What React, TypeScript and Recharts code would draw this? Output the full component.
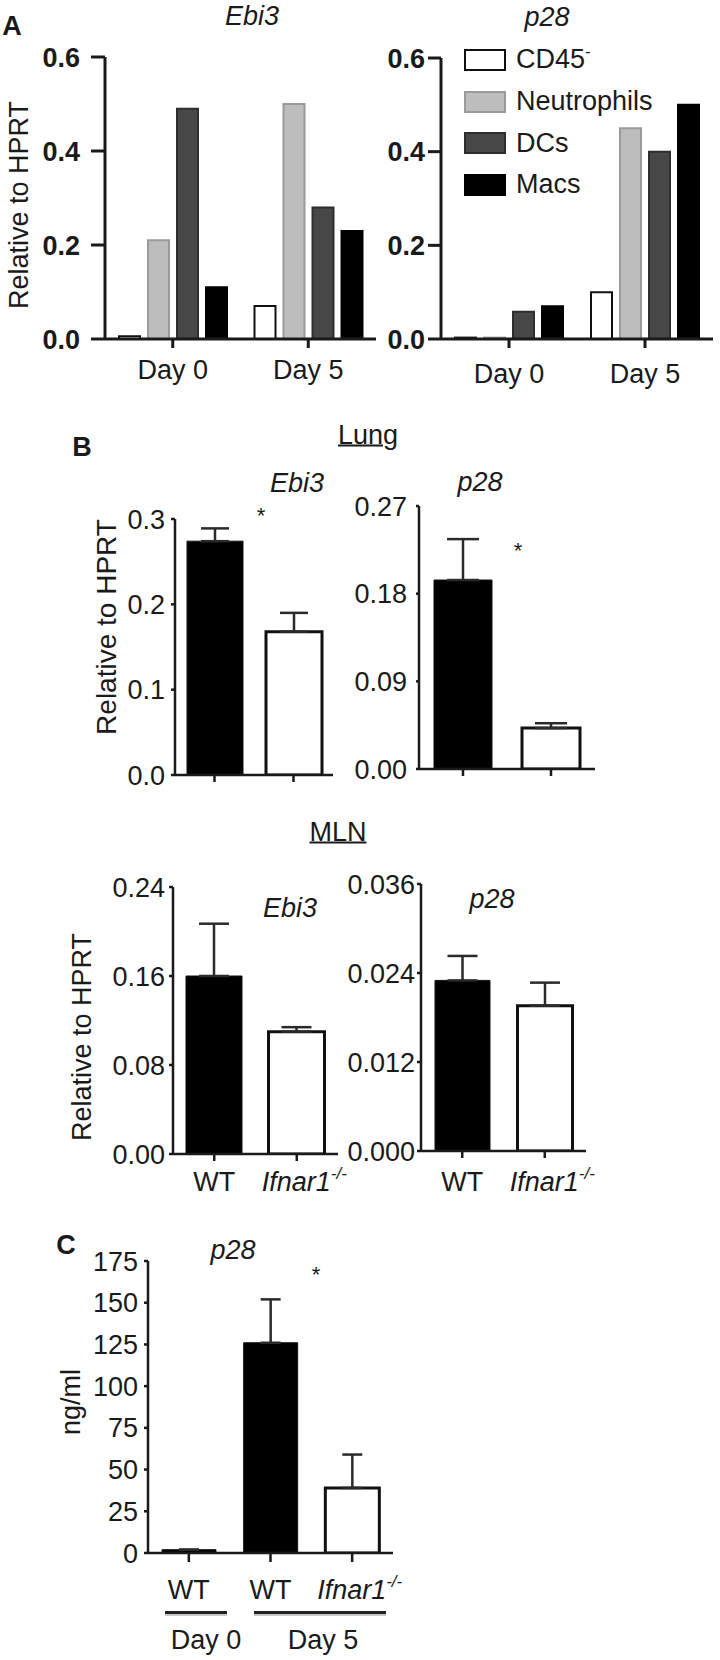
import React from 'react';
import { BarChart, Bar, XAxis, YAxis, ErrorBar, Cell, Legend } from 'recharts';

const FONT = '"Liberation Sans", Arial, Helvetica, sans-serif';
const INK = '#1a1a1a';

// Panel A: cell types, day 0 vs day 5
const aDays = ['Day 0', 'Day 5'];
const aEbi3Cd45 = [0.006, 0.07];
const aEbi3Neut = [0.21, 0.5];
const aEbi3Dcs = [0.49, 0.28];
const aEbi3Macs = [0.11, 0.23];
const aP28Cd45 = [0.003, 0.1];
const aP28Neut = [0.003, 0.45];
const aP28Dcs = [0.058, 0.4];
const aP28Macs = [0.07, 0.5];
const aTicks = [0, 0.2, 0.4, 0.6];

const legendNames = ['CD45', 'Neutrophils', 'DCs', 'Macs'];
const legendFills = ['#ffffff', '#bdbdbd', '#474747', '#000000'];
const legendStrokes = ['#111111', '#9a9a9a', '#2e2e2e', '#000000'];

// Panel B: WT vs Ifnar1-/-
const bGroups = ['WT', 'Ifnar1-/-'];
const groupFills = ['#000000', '#ffffff'];
const lungEbi3 = [0.274, 0.168];
const lungEbi3Err = [0.015, 0.022];
const lungP28 = [0.194, 0.042];
const lungP28Err = [0.042, 0.005];
const mlnEbi3 = [0.16, 0.11];
const mlnEbi3Err = [0.047, 0.004];
const mlnP28 = [0.023, 0.0196];
const mlnP28Err = [0.0033, 0.0031];
const lungEbi3Ticks = [0, 0.1, 0.2, 0.3];
const lungP28Ticks = [0, 0.09, 0.18, 0.27];
const mlnEbi3Ticks = [0, 0.08, 0.16, 0.24];
const mlnP28Ticks = [0, 0.012, 0.024, 0.036];

// Panel C: p28 protein
const cGroups = ['WT', 'WT', 'Ifnar1-/-'];
const cFills = ['#000000', '#000000', '#ffffff'];
const cValues = [2, 126, 39];
const cErr = [0, 26, 20];
const cTicks = [0, 25, 50, 75, 100, 125, 150, 175];

const aEbi3Rows = aDays.map((name, i) => ({ name, cd45: aEbi3Cd45[i], neut: aEbi3Neut[i], dcs: aEbi3Dcs[i], macs: aEbi3Macs[i] }));
const aP28Rows = aDays.map((name, i) => ({ name, cd45: aP28Cd45[i], neut: aP28Neut[i], dcs: aP28Dcs[i], macs: aP28Macs[i] }));
const rows = (vals: number[], errs: number[], names: string[]) =>
  names.map((name, i) => ({ name, v: vals[i], err: [0, errs[i]] }));

const axisA = { stroke: INK, strokeWidth: 3 };
const axisB = { stroke: INK, strokeWidth: 2.5 };
const tickA = { fill: INK, fontSize: 27, fontWeight: 'bold', fontFamily: FONT };
const tickB = { fill: INK, fontSize: 27, fontFamily: FONT };

function XLabel(props: any) {
  const { x, y, payload } = props;
  const v = String(payload.value);
  if (v.startsWith('Ifnar1')) {
    return (
      <text x={x - 35} y={y} dy="0.71em" fontSize={27} fontFamily={FONT} fill={INK} fontStyle="italic">
        <tspan>Ifnar1</tspan>
        <tspan fontSize={17} dy={-12}>-/-</tspan>
      </text>
    );
  }
  return (
    <text x={x} y={y} dy="0.71em" textAnchor="middle" fontSize={27} fontFamily={FONT} fill={INK}>
      {v}
    </text>
  );
}

const NoLabel = () => <g />;

function Plot({ ax, ty, by, rx, yw, xh, mr = 6, data, barGap, children }: any) {
  const mt = 15;
  const width = rx - ax + yw + mr;
  const height = by - ty + mt + xh;
  return (
    <div style={{ position: 'absolute', left: ax - yw, top: ty - mt, width, height }}>
      <BarChart width={width} height={height} data={data} margin={{ top: mt, right: mr, bottom: 0, left: 0 }} barGap={barGap}>
        {children}
      </BarChart>
    </div>
  );
}

function Note({ x, y, size = 27, italic, bold, rotate, underline, children }: any) {
  return (
    <div
      style={{
        position: 'absolute', left: x, top: y, fontSize: size, lineHeight: 1, whiteSpace: 'nowrap',
        transform: `translate(-50%, -50%)${rotate ? ' rotate(-90deg)' : ''}`,
        fontStyle: italic ? 'italic' : 'normal', fontWeight: bold ? 'bold' : 'normal',
        textDecoration: underline ? 'underline' : 'none', textDecorationThickness: 2,
      }}
    >
      {children}
    </div>
  );
}

function CellLegend() {
  return (
    <div style={{ fontFamily: FONT, fontSize: 27, color: INK }}>
      {legendNames.map((n, i) => (
        <div key={n} style={{ display: 'flex', alignItems: 'center', height: 41.7 }}>
          <div style={{ width: 38, height: 18, background: legendFills[i], border: `2px solid ${legendStrokes[i]}` }} />
          <span style={{ marginLeft: 10, lineHeight: 1 }}>
            {n}
            {i === 0 && <span style={{ fontSize: 17, position: 'relative', top: -11 }}>-</span>}
          </span>
        </div>
      ))}
    </div>
  );
}

function cellBars(key: string, i: number) {
  return (
    <Bar key={key} dataKey={key} barSize={21} fill={legendFills[i]} stroke={legendStrokes[i]} strokeWidth={2} isAnimationActive={false} />
  );
}

function GroupBars({ fills, size, cap }: any) {
  return (
    <Bar dataKey="v" barSize={size} isAnimationActive={false}>
      {fills.map((f: string, i: number) => (
        <Cell key={i} fill={f} stroke="#111" strokeWidth={f === '#ffffff' ? 3 : 1} />
      ))}
      <ErrorBar dataKey="err" direction="y" width={cap} stroke="#2a2a2a" strokeWidth={2.5} isAnimationActive={false} />
    </Bar>
  );
}

export default function App() {
  const keys = ['cd45', 'neut', 'dcs', 'macs'];
  return (
    <div style={{ position: 'absolute', left: 0, top: 0, width: 720, height: 1660, background: '#fff', fontFamily: FONT, color: INK, overflow: 'hidden' }}>
      {/* Panel A */}
      <Note x={12} y={26} bold>A</Note>
      <Note x={252} y={16} italic>Ebi3</Note>
      <Note x={547} y={17} italic>p28</Note>
      <Note x={19} y={205} rotate>Relative to HPRT</Note>
      <Plot ax={105} ty={57} by={339} rx={376} yw={70} xh={60} data={aEbi3Rows} barGap={8}>
        <XAxis dataKey="name" height={60} tickSize={9} tickMargin={12} interval={0} axisLine={axisA} tickLine={axisA} tick={<XLabel />} />
        <YAxis width={70} domain={[0, 0.6]} ticks={aTicks} tickFormatter={(v: number) => v.toFixed(1)} tickSize={14} tickMargin={11} interval={0} axisLine={axisA} tickLine={axisA} tick={tickA} allowDataOverflow />
        {keys.map((k, i) => cellBars(k, i))}
      </Plot>
      <Plot ax={441} ty={58} by={339} rx={713} yw={70} xh={60} data={aP28Rows} barGap={8}>
        <XAxis dataKey="name" height={60} tickSize={9} tickMargin={16} interval={0} axisLine={axisA} tickLine={axisA} tick={<XLabel />} />
        <YAxis width={70} domain={[0, 0.6]} ticks={aTicks} tickFormatter={(v: number) => v.toFixed(1)} tickSize={13} tickMargin={3} interval={0} axisLine={axisA} tickLine={axisA} tick={tickA} allowDataOverflow />
        {keys.map((k, i) => cellBars(k, i))}
        <Legend layout="vertical" align="center" verticalAlign="middle" content={<CellLegend />} wrapperStyle={{ left: 93, top: -4, width: 'auto', height: 'auto' }} />
      </Plot>

      {/* Panel B */}
      <Note x={82} y={447} bold>B</Note>
      <Note x={368} y={435} underline>Lung</Note>
      <Note x={297} y={483} italic>Ebi3</Note>
      <Note x={480} y={482} italic>p28</Note>
      <Note x={261} y={516} size={22}>*</Note>
      <Note x={518} y={551} size={22}>*</Note>
      <Note x={107} y={627} rotate size={28}>Relative to HPRT</Note>
      <Plot ax={175} ty={519} by={775} rx={333} yw={70} xh={30} data={rows(lungEbi3, lungEbi3Err, bGroups)}>
        <XAxis dataKey="name" height={30} tickSize={7} interval={0} axisLine={axisB} tickLine={axisB} tick={NoLabel} />
        <YAxis width={70} domain={[0, 0.3]} ticks={lungEbi3Ticks} tickFormatter={(v: number) => v.toFixed(1)} tickSize={4} tickMargin={6} interval={0} axisLine={axisB} tickLine={axisB} tick={tickB} allowDataOverflow />
        {GroupBars({ fills: groupFills, size: 56, cap: 14 })}
      </Plot>
      <Plot ax={419} ty={506} by={769} rx={595} yw={80} xh={30} data={rows(lungP28, lungP28Err, bGroups)}>
        <XAxis dataKey="name" height={30} tickSize={7} interval={0} axisLine={axisB} tickLine={axisB} tick={NoLabel} />
        <YAxis width={80} domain={[0, 0.27]} ticks={lungP28Ticks} tickFormatter={(v: number) => v.toFixed(2)} tickSize={3} tickMargin={9} interval={0} axisLine={axisB} tickLine={axisB} tick={tickB} allowDataOverflow />
        {GroupBars({ fills: groupFills, size: 58, cap: 16 })}
      </Plot>

      <Note x={338} y={832} underline>MLN</Note>
      <Note x={290} y={908} italic>Ebi3</Note>
      <Note x={492} y={899} italic>p28</Note>
      <Note x={82} y={1037} rotate>Relative to HPRT</Note>
      <Plot ax={173} ty={887} by={1154} rx={338} yw={80} xh={70} mr={30} data={rows(mlnEbi3, mlnEbi3Err, bGroups)}>
        <XAxis dataKey="name" height={70} tickSize={7} tickMargin={11} interval={0} axisLine={axisB} tickLine={axisB} tick={<XLabel />} />
        <YAxis width={80} domain={[0, 0.24]} ticks={mlnEbi3Ticks} tickFormatter={(v: number) => v.toFixed(2)} tickSize={4} tickMargin={4} interval={0} axisLine={axisB} tickLine={axisB} tick={tickB} allowDataOverflow />
        {GroupBars({ fills: groupFills, size: 56, cap: 15 })}
      </Plot>
      <Plot ax={421} ty={884} by={1151} rx={586} yw={80} xh={70} mr={30} data={rows(mlnP28, mlnP28Err, bGroups)}>
        <XAxis dataKey="name" height={70} tickSize={7} tickMargin={14} interval={0} axisLine={axisB} tickLine={axisB} tick={<XLabel />} />
        <YAxis width={80} domain={[0, 0.036]} ticks={mlnP28Ticks} tickFormatter={(v: number) => v.toFixed(3)} tickSize={4} tickMargin={2} interval={0} axisLine={axisB} tickLine={axisB} tick={tickB} allowDataOverflow />
        {GroupBars({ fills: groupFills, size: 55, cap: 15 })}
      </Plot>

      {/* Panel C */}
      <Note x={66} y={1245} bold>C</Note>
      <Note x={233} y={1250} italic>p28</Note>
      <Note x={316} y={1275} size={22}>*</Note>
      <Note x={71} y={1402} rotate>ng/ml</Note>
      <Plot ax={148} ty={1261} by={1553} rx={393} yw={70} xh={75} mr={30} data={rows(cValues, cErr, cGroups)}>
        <XAxis dataKey="name" height={75} tickSize={9} tickMargin={18} interval={0} axisLine={axisB} tickLine={axisB} tick={<XLabel />} />
        <YAxis width={70} domain={[0, 175]} ticks={cTicks} tickSize={4} tickMargin={6} interval={0} axisLine={axisB} tickLine={axisB} tick={tickB} allowDataOverflow />
        {GroupBars({ fills: cFills, size: 54, cap: 10 })}
      </Plot>
      <div style={{ position: 'absolute', left: 165, top: 1611, width: 62, height: 3, background: '#222', borderBottom: '2px solid #c8c8c8' }} />
      <div style={{ position: 'absolute', left: 254, top: 1611, width: 132, height: 3, background: '#222', borderBottom: '2px solid #c8c8c8' }} />
      <Note x={206} y={1640}>Day 0</Note>
      <Note x={323} y={1640}>Day 5</Note>
    </div>
  );
}
